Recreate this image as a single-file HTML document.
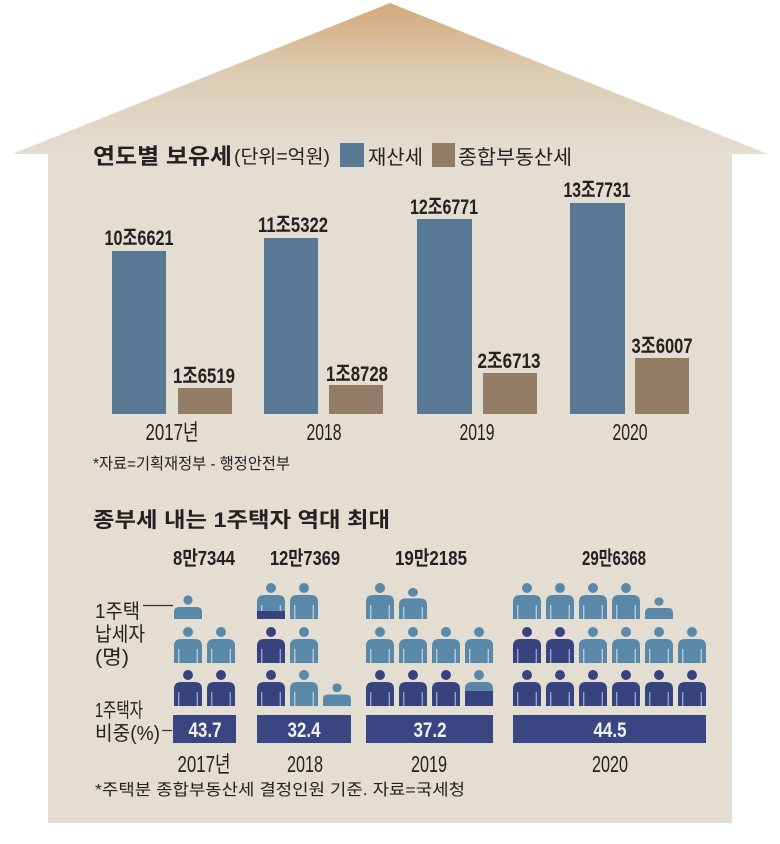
<!DOCTYPE html>
<html><head><meta charset="utf-8">
<style>
html,body{margin:0;padding:0;background:#fff;}
svg{display:block;}
text{font-family:"Liberation Sans","Noto Sans CJK KR",sans-serif;fill:#222;}
.b{font-weight:bold;}
.w{fill:#f2f2f2;}
</style></head>
<body>
<svg width="780" height="844" viewBox="0 0 780 844" xmlns="http://www.w3.org/2000/svg">
<defs>
<linearGradient id="roof" x1="0" y1="0" x2="0" y2="1">
<stop offset="0" stop-color="#d3a979"/>
<stop offset="0.45" stop-color="#dccbb2"/>
<stop offset="1" stop-color="#e4ddd2"/>
</linearGradient>
<symbol id="pl" viewBox="0 0 28 36" preserveAspectRatio="none">
<circle cx="14" cy="5" r="5" fill="#5a88a8"/>
<path d="M0,36V19Q0,12 7,12H21Q28,12 28,19V36Z" fill="#5a88a8"/>
<rect x="4" y="22" width="1.4" height="14" fill="#b3cadb"/>
<rect x="22.6" y="22" width="1.4" height="14" fill="#b3cadb"/>
</symbol>
<symbol id="pd" viewBox="0 0 28 36" preserveAspectRatio="none">
<circle cx="14" cy="5" r="5" fill="#37437f"/>
<path d="M0,36V19Q0,12 7,12H21Q28,12 28,19V36Z" fill="#37437f"/>
<rect x="4" y="22" width="1.4" height="14" fill="#9aa1c6"/>
<rect x="22.6" y="22" width="1.4" height="14" fill="#9aa1c6"/>
</symbol>
<symbol id="ps" viewBox="0 0 28 24" preserveAspectRatio="none">
<circle cx="14" cy="5" r="4.6" fill="#5a88a8"/>
<path d="M0,24V17Q0,12 5,12H23Q28,12 28,17V24Z" fill="#5a88a8"/>
</symbol>
</defs>

<!-- house -->
<polygon points="12,154 390,3 768,154" fill="url(#roof)"/>
<rect x="48" y="150" width="684" height="673" fill="#e4ddd2"/>

<!-- chart 1 title & legend -->
<text class="b" x="93" y="164" font-size="22" textLength="139" lengthAdjust="spacingAndGlyphs">연도별 보유세</text>
<text x="234" y="163" font-size="19" textLength="96" lengthAdjust="spacingAndGlyphs">(단위=억원)</text>
<rect x="340" y="143" width="24" height="24" fill="#587893"/>
<text x="368" y="164" font-size="20" textLength="55" lengthAdjust="spacingAndGlyphs">재산세</text>
<rect x="432" y="143" width="23" height="24" fill="#937d66"/>
<text x="458" y="164" font-size="20" textLength="114" lengthAdjust="spacingAndGlyphs">종합부동산세</text>

<!-- bars -->
<rect x="112" y="251" width="54" height="163" fill="#587893"/>
<rect x="178" y="388" width="54" height="26" fill="#937d66"/>
<rect x="264" y="238" width="54" height="176" fill="#587893"/>
<rect x="329" y="385" width="54" height="29" fill="#937d66"/>
<rect x="417" y="219" width="55" height="195" fill="#587893"/>
<rect x="483" y="373" width="54" height="41" fill="#937d66"/>
<rect x="570" y="203" width="55" height="211" fill="#587893"/>
<rect x="635" y="358" width="54" height="56" fill="#937d66"/>

<g font-size="21" text-anchor="middle">
<text class="b" x="139" y="245" textLength="69" lengthAdjust="spacingAndGlyphs">10조6621</text>
<text class="b" x="204" y="383" textLength="62" lengthAdjust="spacingAndGlyphs">1조6519</text>
<text class="b" x="293" y="232" textLength="70" lengthAdjust="spacingAndGlyphs">11조5322</text>
<text class="b" x="357" y="381" textLength="62" lengthAdjust="spacingAndGlyphs">1조8728</text>
<text class="b" x="444" y="214" textLength="68" lengthAdjust="spacingAndGlyphs">12조6771</text>
<text class="b" x="509" y="368" textLength="63" lengthAdjust="spacingAndGlyphs">2조6713</text>
<text class="b" x="597" y="197" textLength="67" lengthAdjust="spacingAndGlyphs">13조7731</text>
<text class="b" x="662" y="353" textLength="61" lengthAdjust="spacingAndGlyphs">3조6007</text>
</g>

<g font-size="23" text-anchor="middle">
<text x="172" y="440" textLength="53" lengthAdjust="spacingAndGlyphs">2017년</text>
<text x="324" y="440" textLength="35" lengthAdjust="spacingAndGlyphs">2018</text>
<text x="477" y="440" textLength="35" lengthAdjust="spacingAndGlyphs">2019</text>
<text x="630" y="440" textLength="35" lengthAdjust="spacingAndGlyphs">2020</text>
</g>
<text x="93" y="469" font-size="16" textLength="197" lengthAdjust="spacingAndGlyphs">*자료=기획재정부 - 행정안전부</text>

<!-- chart 2 -->
<text class="b" x="93" y="527" font-size="21" textLength="297" lengthAdjust="spacingAndGlyphs">종부세 내는 1주택자 역대 최대</text>

<g font-size="20" text-anchor="middle">
<text class="b" x="204" y="565" textLength="62" lengthAdjust="spacingAndGlyphs">8만7344</text>
<text class="b" x="305" y="565" textLength="70" lengthAdjust="spacingAndGlyphs">12만7369</text>
<text class="b" x="431" y="565" textLength="72" lengthAdjust="spacingAndGlyphs">19만2185</text>
<text class="b" x="614" y="565" textLength="64" lengthAdjust="spacingAndGlyphs">29만6368</text>
</g>

<!-- left labels -->
<g font-size="20">
<text x="95" y="618" textLength="45" lengthAdjust="spacingAndGlyphs">1주택</text>
<text x="95" y="641" textLength="50" lengthAdjust="spacingAndGlyphs">납세자</text>
<text x="95" y="664" textLength="34" lengthAdjust="spacingAndGlyphs">(명)</text>
<text x="95" y="717" textLength="48" lengthAdjust="spacingAndGlyphs">1주택자</text>
<text x="95" y="740" textLength="65" lengthAdjust="spacingAndGlyphs">비중(%)</text>
</g>
<line x1="143" y1="605.5" x2="173" y2="605.5" stroke="#333" stroke-width="1.2"/>
<line x1="162" y1="730.5" x2="172" y2="730.5" stroke="#333" stroke-width="1.2"/>

<!-- 2017 -->
<use href="#ps" x="174" y="595" width="28" height="24"/>
<use href="#pl" x="174" y="627" width="28" height="36"/>
<use href="#pl" x="207" y="627" width="28" height="36"/>
<use href="#pd" x="174" y="670" width="28" height="36"/>
<use href="#pd" x="207" y="670" width="28" height="36"/>

<!-- 2018 -->
<use href="#pl" x="257" y="583" width="28" height="36"/>
<rect x="257" y="611" width="28" height="8" fill="#37437f"/>
<use href="#pl" x="290" y="583" width="28" height="36"/>
<use href="#pd" x="257" y="627" width="28" height="36"/>
<use href="#pl" x="290" y="627" width="28" height="36"/>
<use href="#pd" x="257" y="670" width="28" height="36"/>
<use href="#pl" x="290" y="670" width="28" height="36"/>
<use href="#ps" x="323" y="683" width="28" height="23"/>

<!-- 2019 -->
<use href="#pl" x="366" y="583" width="28" height="36"/>
<use href="#pl" x="399" y="588" width="28" height="31"/>
<use href="#pl" x="366" y="627" width="28" height="36"/>
<use href="#pl" x="399" y="627" width="28" height="36"/>
<use href="#pl" x="432" y="627" width="28" height="36"/>
<use href="#pl" x="465" y="627" width="28" height="36"/>
<use href="#pd" x="366" y="670" width="28" height="36"/>
<use href="#pd" x="399" y="670" width="28" height="36"/>
<use href="#pd" x="432" y="670" width="28" height="36"/>
<use href="#pl" x="465" y="670" width="28" height="36"/>
<rect x="465" y="691" width="28" height="15" fill="#37437f"/>

<!-- 2020 -->
<use href="#pl" x="513" y="583" width="28" height="36"/>
<use href="#pl" x="546" y="583" width="28" height="36"/>
<use href="#pl" x="579" y="583" width="28" height="36"/>
<use href="#pl" x="612" y="583" width="28" height="36"/>
<use href="#ps" x="645" y="597" width="28" height="22"/>
<use href="#pd" x="513" y="627" width="28" height="36"/>
<use href="#pd" x="546" y="627" width="28" height="36"/>
<use href="#pl" x="579" y="627" width="28" height="36"/>
<use href="#pl" x="612" y="627" width="28" height="36"/>
<use href="#pl" x="645" y="627" width="28" height="36"/>
<use href="#pl" x="678" y="627" width="28" height="36"/>
<use href="#pd" x="513" y="670" width="28" height="36"/>
<use href="#pd" x="546" y="670" width="28" height="36"/>
<use href="#pd" x="579" y="670" width="28" height="36"/>
<use href="#pd" x="612" y="670" width="28" height="36"/>
<use href="#pd" x="645" y="670" width="28" height="36"/>
<use href="#pd" x="678" y="670" width="28" height="36"/>

<!-- percentage bars -->
<rect x="173" y="715" width="63" height="28" fill="#3a4682"/>
<rect x="257" y="715" width="94" height="28" fill="#3a4682"/>
<rect x="366" y="715" width="127" height="28" fill="#3a4682"/>
<rect x="513" y="715" width="193" height="28" fill="#3a4682"/>
<g font-size="21" text-anchor="middle">
<text class="b w" x="205" y="737" textLength="33" lengthAdjust="spacingAndGlyphs">43.7</text>
<text class="b w" x="304" y="737" textLength="33" lengthAdjust="spacingAndGlyphs">32.4</text>
<text class="b w" x="430" y="737" textLength="33" lengthAdjust="spacingAndGlyphs">37.2</text>
<text class="b w" x="610" y="737" textLength="33" lengthAdjust="spacingAndGlyphs">44.5</text>
</g>

<g font-size="23" text-anchor="middle">
<text x="204" y="772" textLength="53" lengthAdjust="spacingAndGlyphs">2017년</text>
<text x="305" y="772" textLength="36" lengthAdjust="spacingAndGlyphs">2018</text>
<text x="429" y="772" textLength="36" lengthAdjust="spacingAndGlyphs">2019</text>
<text x="610" y="772" textLength="36" lengthAdjust="spacingAndGlyphs">2020</text>
</g>
<text x="95" y="795" font-size="16" textLength="370" lengthAdjust="spacingAndGlyphs">*주택분 종합부동산세 결정인원 기준. 자료=국세청</text>
</svg>
</body></html>
